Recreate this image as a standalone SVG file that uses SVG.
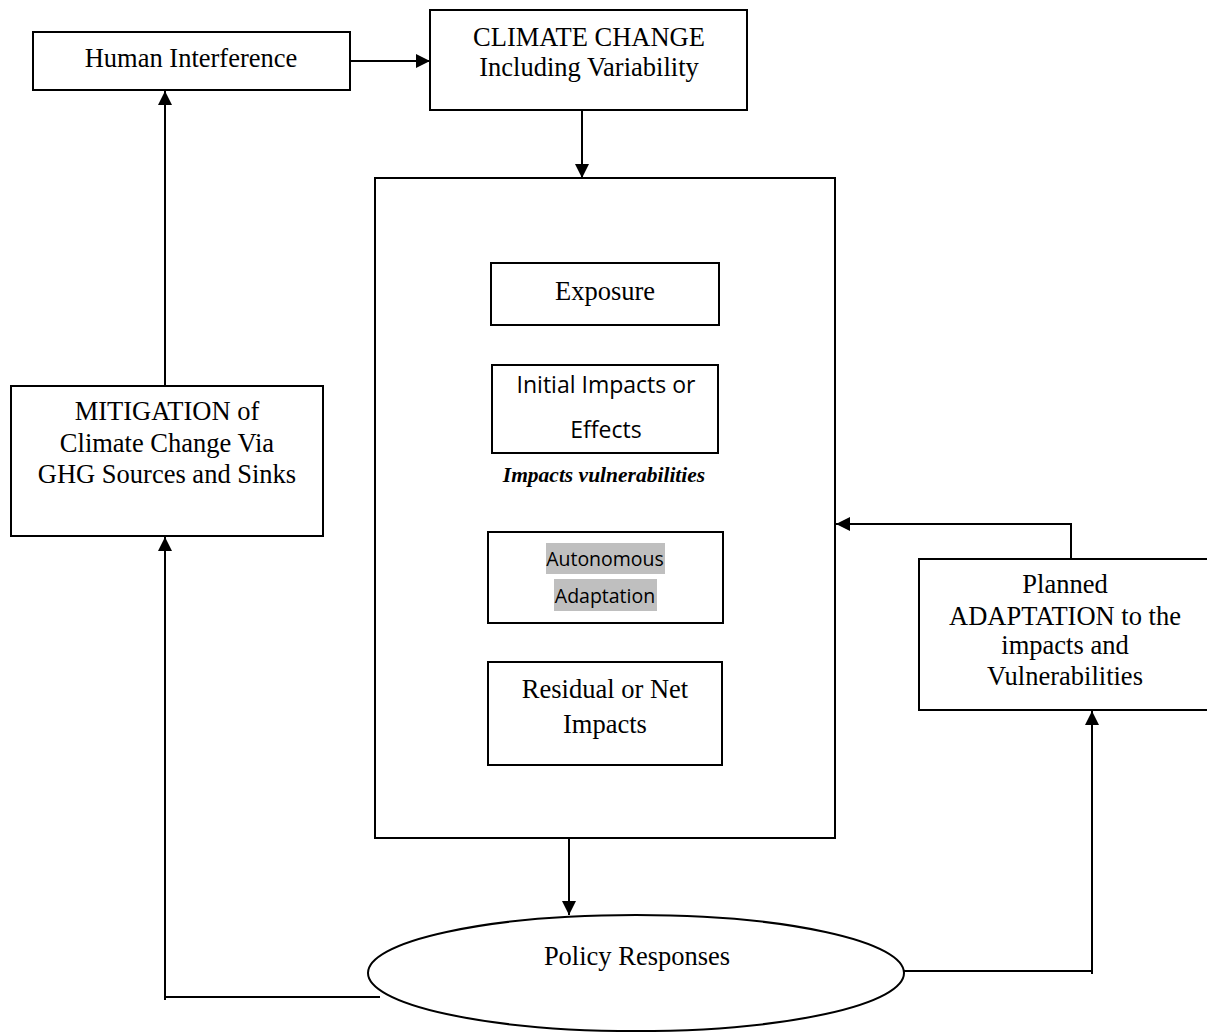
<svg xmlns="http://www.w3.org/2000/svg" width="1207" height="1032" viewBox="0 0 1207 1032">
  <style>
    .box { fill: #ffffff; stroke: #000000; stroke-width: 2; }
    .line { fill: none; stroke: #000000; stroke-width: 2; }
    .serif { font-family: "Liberation Serif", "Times New Roman", serif; font-size: 26.5px; fill: #000000; text-anchor: middle; }
    .sans { font-family: "Open Sans", "Liberation Sans", sans-serif; font-size: 23px; fill: #000000; text-anchor: middle; }
    .sans-small { font-family: "Open Sans", "Liberation Sans", sans-serif; font-size: 19.5px; fill: #000000; text-anchor: middle; }
    .label { font-family: "Liberation Serif", "Times New Roman", serif; font-size: 21.5px; font-weight: bold; font-style: italic; fill: #000000; text-anchor: middle; }
    .hl { fill: #bfbfbf; }
  </style>
  <defs>
    <marker id="arrow" markerWidth="14" markerHeight="14" refX="14" refY="7" orient="auto" markerUnits="userSpaceOnUse">
      <path d="M0,0 L14,7 L0,14 Z" fill="#000000"/>
    </marker>
  </defs>

  <rect width="1207" height="1032" fill="#ffffff"/>

  <!-- connectors -->
  <g id="connectors">
    <line class="line" x1="350" y1="61" x2="430" y2="61" marker-end="url(#arrow)"/>
    <line class="line" x1="582" y1="110" x2="582" y2="178" marker-end="url(#arrow)"/>
    <line class="line" x1="165" y1="386" x2="165" y2="91" marker-end="url(#arrow)"/>
    <line class="line" x1="569" y1="831" x2="569" y2="915" marker-end="url(#arrow)"/>
    <polyline class="line" points="380,997 165,997 165,537" marker-end="url(#arrow)"/>
    <line class="line" x1="165" y1="997" x2="165" y2="1000"/>
    <polyline class="line" points="904,971 1092,971 1092,711" marker-end="url(#arrow)"/>
    <line class="line" x1="1092" y1="971" x2="1092" y2="974"/>
    <polyline class="line" points="1071,559 1071,524 836,524" marker-end="url(#arrow)"/>
  </g>

  <g id="human-interference">
    <rect class="box" x="33" y="32" width="317" height="58"/>
    <text class="serif" x="191" y="67">Human Interference</text>
  </g>

  <g id="climate-change">
    <rect class="box" x="430" y="10" width="317" height="100"/>
    <text class="serif" x="589" y="46">CLIMATE CHANGE</text>
    <text class="serif" x="589" y="76">Including Variability</text>
  </g>

  <g id="impacts-frame">
    <rect class="box" x="375" y="178" width="460" height="660"/>
    <text class="label" x="604" y="482">Impacts vulnerabilities</text>
  </g>

  <g id="exposure">
    <rect class="box" x="491" y="263" width="228" height="62"/>
    <text class="serif" x="605" y="300">Exposure</text>
  </g>

  <g id="initial-impacts">
    <rect class="box" x="492" y="365" width="226" height="88"/>
    <text class="sans" x="606" y="393">Initial Impacts or</text>
    <text class="sans" x="606" y="438">Effects</text>
  </g>

  <g id="autonomous-adaptation">
    <rect class="box" x="488" y="532" width="235" height="91"/>
    <rect class="hl" x="546" y="543" width="119" height="31"/>
    <rect class="hl" x="554" y="579" width="103" height="32"/>
    <text class="sans-small" x="605" y="566">Autonomous</text>
    <text class="sans-small" x="605" y="603">Adaptation</text>
  </g>

  <g id="residual-impacts">
    <rect class="box" x="488" y="662" width="234" height="103"/>
    <text class="serif" x="605" y="698">Residual or Net</text>
    <text class="serif" x="605" y="733">Impacts</text>
  </g>

  <g id="mitigation">
    <rect class="box" x="11" y="386" width="312" height="150"/>
    <text class="serif" x="167" y="420">MITIGATION of</text>
    <text class="serif" x="167" y="452">Climate Change Via</text>
    <text class="serif" x="167" y="483">GHG Sources and Sinks</text>
  </g>

  <g id="planned-adaptation">
    <rect class="box" x="919" y="559" width="300" height="151"/>
    <text class="serif" x="1065" y="593">Planned</text>
    <text class="serif" x="1065" y="625">ADAPTATION to the</text>
    <text class="serif" x="1065" y="654">impacts and</text>
    <text class="serif" x="1065" y="685">Vulnerabilities</text>
  </g>

  <g id="policy-responses">
    <ellipse class="box" cx="636" cy="973" rx="268" ry="58"/>
    <text class="serif" x="637" y="965">Policy Responses</text>
  </g>
</svg>
